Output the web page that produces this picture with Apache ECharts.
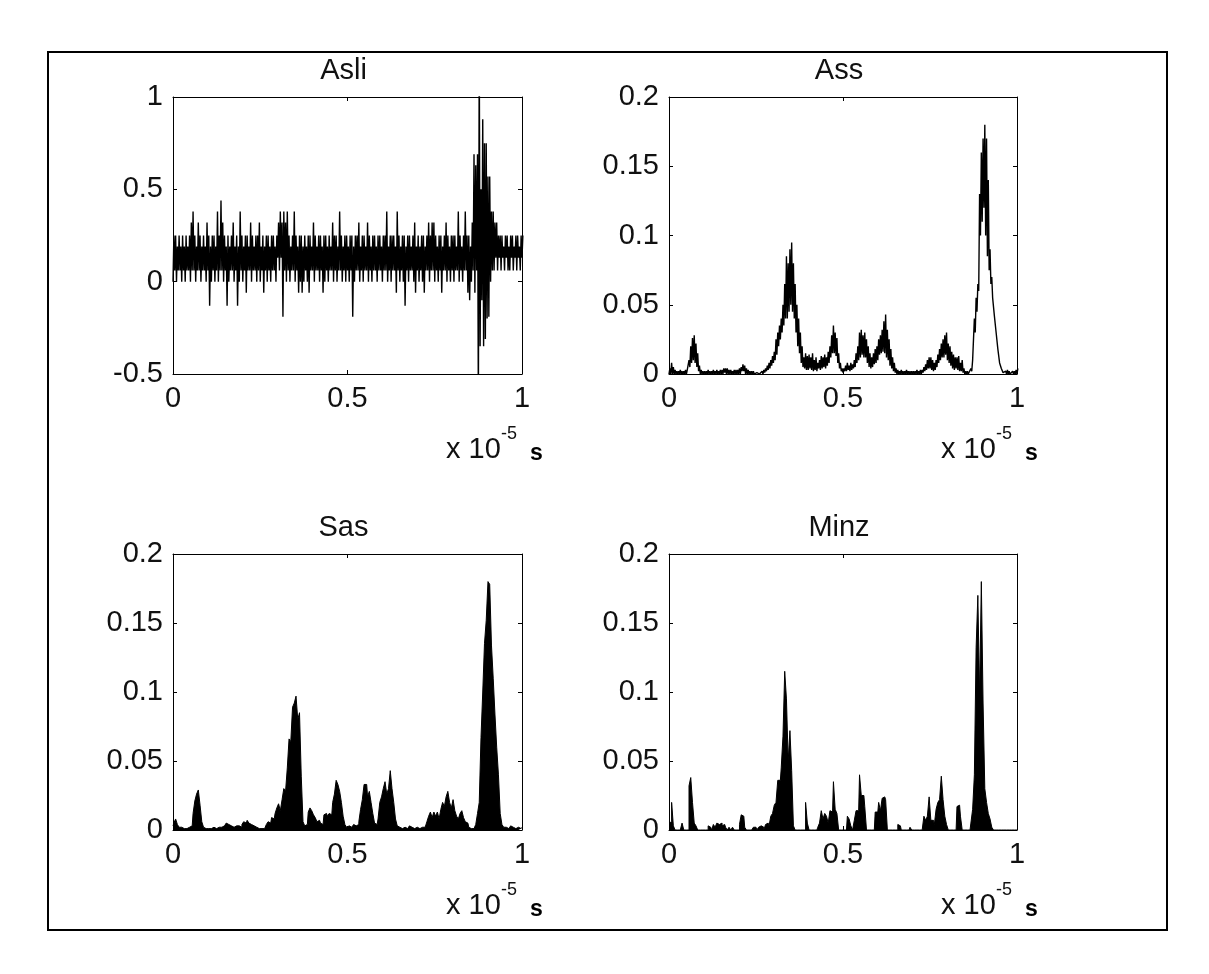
<!DOCTYPE html>
<html>
<head>
<meta charset="utf-8">
<title>Asli / Ass / Sas / Minz</title>
<script src="https://cdn.jsdelivr.net/npm/echarts@6/dist/echarts.min.js"></script>
<style>
	html, body {margin: 0; padding: 0; background: #fff;}
	#chart {width: 1209px; height: 974px;}
</style>
</head>
<body>
<div id="chart"></div>
<script>
// samples every 0.005 (x 10^-5 s)
var x_step = 0.005;
var titles = ['Asli', 'Ass', 'Sas', 'Minz'];

// Asli: lowest and highest swing inside each sample step
var asli_low = [
	0,.06,0,.06,.06,0,.06,0,.06,.06,0,.06,.06,0,.06,.06,0,.06,.06,0,
	.06,-.13,0,.06,0,.06,0,.06,.06,0,.06,-.13,0,.06,.06,0,.06,-.13,0,.06,
	0,.06,-.06,.06,.06,0,.06,.06,0,.06,0,.06,-.06,.06,0,.06,0,.06,.06,0,
	.13,.06,.13,-.19,.06,0,.06,0,.06,.06,0,.06,-.06,0,-.06,0,.06,0,-.06,.06,
	.06,0,.06,.06,0,.06,-.06,0,.06,0,.06,.06,0,.06,0,.06,.06,0,.06,0,
	.06,0,.06,-.19,0,.06,.06,0,.06,0,.06,.06,0,.06,0,.06,.06,0,.06,.06,
	0,.06,.06,0,.06,0,.06,.06,-.06,.06,0,.06,0,-.13,.06,0,.06,.06,0,-.06,
	.06,0,.06,0,-.06,.06,.06,0,.06,.06,0,.06,0,.06,-.06,.06,.06,0,.06,0,
	.06,0,.06,.06,0,.06,0,.06,.06,-.06,-.1,0,.06,-.06,.06,-.7,-.35,-.1,-.35,-.31,
	-.2,-.19,0,.06,.06,.13,.06,.13,.06,.13,.06,.13,.06,.06,.13,.06,.13,.06,.13,.06,.13
];

var asli_high = [
	.25,.25,.19,.25,.19,.25,.19,.25,.19,.25,.32,.38,.25,.19,.32,.25,.19,.25,.19,.32,
	.25,.19,.25,.25,.19,.38,.25,.44,.32,.25,.19,.25,.19,.25,.32,.19,.25,.19,.38,.25,
	.19,.25,.25,.19,.32,.25,.19,.25,.25,.32,.19,.25,.19,.25,.25,.19,.25,.25,.19,.25,
	.32,.38,.32,.38,.32,.38,.25,.19,.25,.38,.25,.19,.25,.25,.19,.25,.19,.25,.25,.19,
	.32,.25,.19,.25,.25,.19,.25,.25,.19,.25,.19,.32,.25,.25,.19,.38,.25,.19,.25,.25,
	.19,.25,.25,.19,.25,.25,.32,.19,.25,.25,.19,.32,.25,.19,.25,.25,.19,.25,.25,.19,
	.25,.25,.38,.19,.25,.25,.25,.19,.38,.25,.19,.25,.25,.19,.25,.25,.19,.25,.32,.19,
	.25,.19,.25,.25,.19,.25,.32,.25,.32,.32,.25,.19,.25,.25,.19,.25,.32,.25,.19,.25,
	.25,.25,.19,.38,.25,.19,.25,.38,.25,.25,.19,.32,.69,.63,.69,1.3,.5,.88,.75,.75,
	.57,.57,.38,.38,.32,.32,.25,.25,.25,.19,.25,.25,.19,.25,.25,.19,.25,.25,.19,.25,.25
];

var ass_low = [
	0,0,0,0,0,0,0,0,0,0,
	0,0.002,0.005,0.008,0.01,0.008,0.005,0.002,0,0,
	0,0,0,0,0,0,0,0,0,0,
	0,0,0.001,0,0,0,0,0,0,0,
	0,0,0.002,0.002,0,0,0,0,0,0,
	0,0,0,0,0,0.001,0.002,0.003,0.004,0.006,
	0.008,0.01,0.014,0.02,0.025,0.03,0.035,0.04,0.04,0.045,
	0.05,0.045,0.04,0.03,0.02,0.015,0.008,0.005,0.004,0.003,
	0.003,0.004,0.003,0.002,0.003,0.002,0.004,0.003,0.004,0.005,
	0.004,0.006,0.008,0.012,0.015,0.015,0.013,0.008,0.004,0.002,
	0.001,0.002,0.002,0.003,0.002,0.003,0.004,0.005,0.008,0.01,
	0.012,0.014,0.012,0.012,0.008,0.005,0.004,0.005,0.007,0.008,
	0.01,0.014,0.015,0.016,0.015,0.012,0.01,0.006,0.004,0.002,
	0.001,0,0,0,0,0,0,0,0,0,
	0,0,0,0,0,0,0.001,0.002,0.003,0.004,
	0.004,0.003,0.002,0.003,0.005,0.008,0.01,0.012,0.012,0.014,
	0.01,0.008,0.006,0.004,0.003,0.004,0.003,0.002,0.002,0.001,
	0,0,0,0,0.002,0.01,0.03,0.045,0.06,0.1,
	0.11,0.12,0.1,0.085,0.075,0.065,0.055,0.042,0.03,0.018,
	0.008,0.004,0.001,0,0,0,0,0,0,0,0
];

var ass_high = [
	0.004,0.008,0.005,0.003,0.002,0.002,0.003,0.002,0.002,0.003,
	0.003,0.01,0.02,0.026,0.028,0.022,0.015,0.006,0.003,0.002,
	0.002,0.002,0.003,0.002,0.002,0.003,0.002,0.003,0.002,0.003,
	0.003,0.004,0.004,0.004,0.003,0.003,0.002,0.003,0.003,0.003,
	0.004,0.005,0.007,0.006,0.004,0.003,0.002,0.002,0.002,0.001,
	0.001,0.001,0.001,0.002,0.003,0.004,0.006,0.008,0.01,0.013,
	0.016,0.025,0.03,0.035,0.04,0.05,0.065,0.085,0.08,0.09,
	0.095,0.08,0.065,0.05,0.04,0.03,0.02,0.012,0.015,0.013,
	0.014,0.012,0.015,0.01,0.012,0.008,0.01,0.013,0.012,0.014,
	0.012,0.016,0.02,0.028,0.035,0.03,0.026,0.015,0.008,0.004,
	0.004,0.006,0.008,0.006,0.008,0.007,0.01,0.015,0.02,0.03,
	0.032,0.028,0.03,0.025,0.02,0.015,0.012,0.015,0.018,0.02,
	0.025,0.028,0.032,0.038,0.043,0.032,0.025,0.018,0.012,0.008,
	0.004,0.003,0.002,0.003,0.002,0.002,0.003,0.002,0.002,0.002,
	0.002,0.002,0.003,0.002,0.003,0.003,0.005,0.007,0.01,0.012,
	0.012,0.01,0.008,0.01,0.014,0.018,0.022,0.025,0.028,0.03,
	0.022,0.02,0.016,0.014,0.012,0.012,0.013,0.008,0.01,0.004,
	0.002,0.002,0.001,0.004,0.01,0.04,0.055,0.065,0.13,0.16,
	0.17,0.18,0.17,0.14,0.09,0.07,0.055,0.042,0.03,0.018,
	0.008,0.004,0.002,0.002,0.003,0.002,0.001,0.002,0.002,0.003,0.004
];

var sas = [
	0.003,0.005,0.008,0.004,0.002,0.002,0.001,0.002,0.001,0.002,
	0.002,0.003,0.012,0.021,0.026,0.029,0.018,0.006,0.002,0.001,
	0.001,0.002,0.001,0.002,0.002,0.001,0.002,0.003,0.002,0.003,
	0.004,0.005,0.004,0.003,0.002,0.002,0.003,0.002,0.003,0.002,
	0.004,0.006,0.005,0.007,0.005,0.004,0.003,0.002,0.002,0.001,
	0.002,0.001,0.001,0.002,0.004,0.006,0.005,0.009,0.008,0.012,
	0.016,0.019,0.014,0.022,0.03,0.028,0.045,0.066,0.064,0.089,
	0.092,0.097,0.08,0.085,0.039,0.006,0.003,0.004,0.013,0.016,
	0.014,0.011,0.009,0.006,0.007,0.005,0.004,0.011,0.012,0.01,
	0.012,0.011,0.02,0.026,0.036,0.033,0.028,0.02,0.01,0.004,
	0.002,0.003,0.002,0.003,0.004,0.003,0.004,0.006,0.015,0.022,
	0.033,0.033,0.024,0.028,0.02,0.012,0.005,0.004,0.008,0.02,
	0.024,0.03,0.035,0.026,0.03,0.043,0.03,0.02,0.008,0.003,
	0.002,0.001,0.002,0.002,0.001,0.002,0.003,0.002,0.001,0.002,
	0.002,0.001,0.002,0.002,0.002,0.003,0.006,0.01,0.013,0.009,
	0.013,0.01,0.013,0.008,0.015,0.02,0.017,0.024,0.028,0.02,
	0.016,0.022,0.014,0.01,0.008,0.012,0.014,0.009,0.006,0.005,
	0.002,0.001,0.001,0.002,0.004,0.012,0.02,0.067,0.1,0.135,
	0.152,0.18,0.178,0.134,0.11,0.084,0.06,0.04,0.012,0.004,
	0.002,0.002,0.001,0.002,0.003,0.002,0.001,0.002,0.002,0.001,0.002
];

var minz = [
	0.005,0.006,0.02,0.003,0,0,0,0,0.005,0,
	0,0,0.032,0.038,0.02,0.005,0.003,0,0,0,
	0,0,0,0.003,0.002,0,0.004,0.002,0.005,0.004,
	0.005,0.003,0.004,0.002,0,0.002,0,0.002,0,0,
	0,0.004,0.011,0.01,0.002,0,0,0,0,0.002,
	0.002,0,0.002,0.003,0.002,0,0.004,0.005,0.003,0.01,
	0.012,0.018,0.02,0.036,0.036,0.045,0.068,0.115,0.095,0.05,
	0.072,0.043,0.003,0,0,0,0,0,0,0.02,
	0.005,0,0,0,0,0,0.002,0.005,0.014,0.008,
	0.012,0.01,0.005,0.014,0.013,0.035,0.015,0.012,0,0,
	0,0,0,0.01,0.008,0.003,0,0.007,0.014,0.014,
	0.04,0.025,0.025,0.017,0,0,0,0,0,0.013,
	0.013,0.02,0.014,0.023,0.024,0.022,0,0,0,0,
	0,0,0.004,0.003,0,0,0,0,0,0.002,
	0,0,0,0,0,0,0,0.01,0.007,0.01,
	0.024,0.007,0.007,0.004,0.015,0.02,0.022,0.039,0.022,0.01,
	0.004,0,0,0,0,0,0.017,0.018,0.01,0,
	0,0,0,0,0.005,0.015,0.04,0.132,0.17,0.097,
	0.18,0.092,0.03,0.02,0.012,0.008,0.002,0,0,0,
	0,0,0,0,0,0,0,0,0,0,0
];

var font = "'Liberation Sans', Arial, sans-serif";
var font_size = 29;

var panels = [
	{left: 173, top: 97, width: 349, height: 277, min: -0.5, max: 1, interval: 0.5},
	{left: 669, top: 97, width: 348, height: 277, min: 0, max: 0.2, interval: 0.05},
	{left: 173, top: 554, width: 349, height: 276, min: 0, max: 0.2, interval: 0.05},
	{left: 669, top: 554, width: 348, height: 276, min: 0, max: 0.2, interval: 0.05}
];

function to_xy(values){
	var out = [];
	for (var i = 0; i < values.length; i++) out.push([i * x_step, values[i]]);
	return out;
}

// dense signal: swings between the low and high value of every step
function to_band(low, high){
	var out = [];
	for (var i = 0; i < low.length; i++){
		out.push([i * x_step, low[i]]);
		out.push([i * x_step + x_step / 2, high[i]]);
	}
	return out;
}

function axis_base(grid, position, labels){
	return {
		type: 'value', gridIndex: grid, position: position,
		axisLine: {show: true, onZero: false, lineStyle: {color: '#000', width: 1}},
		axisTick: {show: true, inside: true, length: 4, lineStyle: {color: '#000', width: 1}},
		axisLabel: {show: labels, margin: 10, fontSize: font_size, fontFamily: font, color: '#111'},
		splitLine: {show: false}
	};
}

var grids = [], x_axes = [], y_axes = [], title_list = [], graphics = [];

graphics.push({
	type: 'rect', z: 10, silent: true,
	shape: {x: 48, y: 52, width: 1119, height: 878},
	style: {fill: 'none', stroke: '#000', lineWidth: 2}
});

panels.forEach(function(p, i){
	grids.push({left: p.left, top: p.top, width: p.width, height: p.height, containLabel: false});

	['bottom', 'top'].forEach(function(pos){
		var ax = axis_base(i, pos, pos == 'bottom');
		ax.min = 0; ax.max = 1; ax.interval = 0.5;
		x_axes.push(ax);
	});
	['left', 'right'].forEach(function(pos){
		var ax = axis_base(i, pos, pos == 'left');
		ax.min = p.min; ax.max = p.max; ax.interval = p.interval;
		y_axes.push(ax);
	});

	title_list.push({
		text: titles[i], left: p.left + p.width / 2 - 4, top: p.top - 41, textAlign: 'center', padding: 0,
		textStyle: {fontSize: font_size, fontWeight: 'normal', fontFamily: font, color: '#111'}
	});

	// x 10^-5 s under the right end of the x axis
	var rx = p.left + p.width, by = p.top + p.height;
	graphics.push({type: 'text', x: rx - 76, y: by + 76, style: {text: 'x 10', font: font_size + 'px ' + font, fill: '#111', verticalAlign: 'middle'}});
	graphics.push({type: 'text', x: rx - 21, y: by + 60, style: {text: '-5', font: '18px ' + font, fill: '#111', verticalAlign: 'middle'}});
	graphics.push({type: 'text', x: rx + 8, y: by + 80, style: {text: 's', font: 'bold 23px ' + font, fill: '#000', verticalAlign: 'middle'}});
});

var line_style = {color: '#000', width: 1};
var band_style = {color: '#000', width: 1.4};

var series = [
	{name: 'Asli', type: 'line', xAxisIndex: 0, yAxisIndex: 0, data: to_band(asli_low, asli_high),
		showSymbol: false, lineStyle: band_style, itemStyle: {color: '#000'}},
	{name: 'Ass', type: 'line', xAxisIndex: 2, yAxisIndex: 2, data: to_band(ass_low, ass_high),
		showSymbol: false, lineStyle: band_style, itemStyle: {color: '#000'}},
	{name: 'Sas', type: 'line', xAxisIndex: 4, yAxisIndex: 4, data: to_xy(sas), step: 'middle',
		showSymbol: false, lineStyle: line_style, itemStyle: {color: '#000'}, areaStyle: {color: '#000', opacity: 1}},
	{name: 'Minz', type: 'line', xAxisIndex: 6, yAxisIndex: 6, data: to_xy(minz), step: 'middle',
		showSymbol: false, lineStyle: line_style, itemStyle: {color: '#000'}, areaStyle: {color: '#000', opacity: 1}}
];

var myChart = echarts.init(document.getElementById('chart'), null, {renderer: 'canvas'});

var options = {
	animation: false,
	backgroundColor: '#fff',
	title: title_list,
	grid: grids,
	xAxis: x_axes,
	yAxis: y_axes,
	series: series,
	graphic: graphics
};

myChart.setOption(options);
</script>
</body>
</html>
